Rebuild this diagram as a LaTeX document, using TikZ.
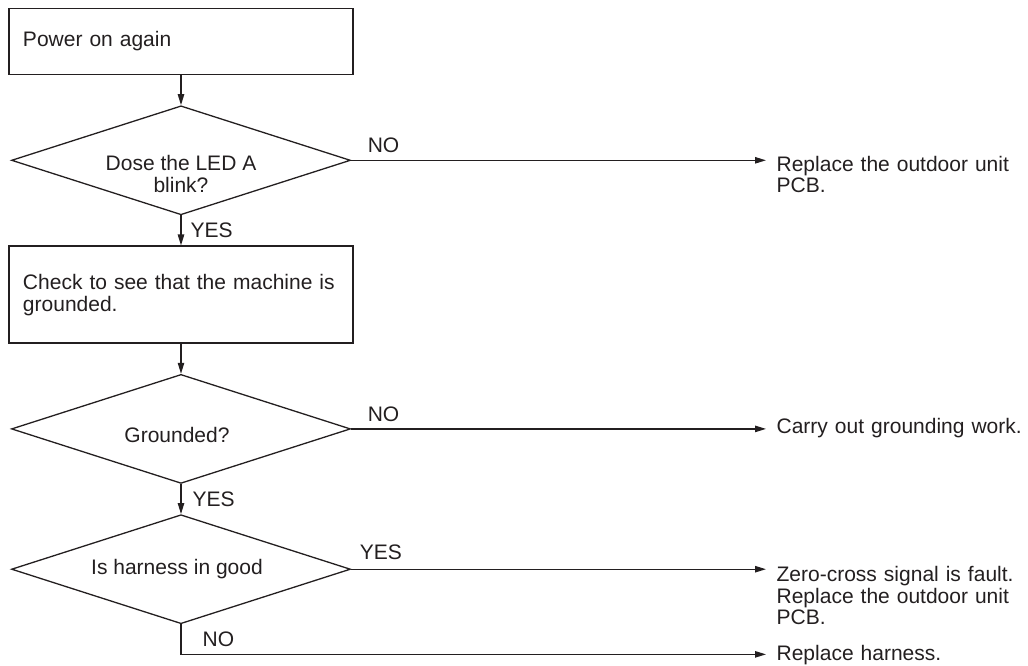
\documentclass[tikz,border=0pt]{standalone}
\usepackage{fontspec}
\setmainfont{Liberation Sans}
\usetikzlibrary{arrows.meta,positioning,shapes.geometric}
\definecolor{ink}{HTML}{231F20}
\setlength{\lineskiplimit}{-4pt}

\begin{document}
\begin{tikzpicture}[x=0.5pt,y=-0.5pt,node distance=15pt,>={Triangle[length=5.5pt,width=3.2pt]},
 line width=0.65pt,draw=ink,text=ink,
 every node/.style={font=\fontsize{10.5}{11}\selectfont},
 box/.style={draw=ink,rectangle,minimum width=172pt,text width=158pt,inner xsep=7pt,align=left},
 dec/.style={draw=ink,diamond,aspect=3.1,minimum width=169.5pt,minimum height=54.5pt,inner sep=0pt},
 dtext/.style={align=center,text=ink},
 res/.style={anchor=north west,inner sep=0pt,text width=126pt,align=left,
  font=\fontsize{10.5}{9.5}\selectfont},
 lbl/.style={inner sep=0pt}]
\useasboundingbox (0,0) rectangle (1028,665);
% main column
\node[box,minimum height=33pt] (pw) at (181,41.5) {Power on again};
\node[dec,below=of pw,label={[dtext,yshift=-6.75pt]center:Dose the LED A\\blink?}] (led) {};
\node[box,minimum height=48.5pt,below=of led] (chk) {Check to see that the machine is\\grounded.};
\node[dec,below=of chk,label={[dtext,xshift=-2pt,yshift=-3pt]center:Grounded?}] (gnd) {};
\node[dec,below=of gnd,label={[dtext,xshift=-2pt]center:Is harness in good}] (hrn) {};
% results
\node[res] (pcb) at (776,156) {Replace the outdoor unit\\PCB.};
\node[res] (wrk) at (776,418) {Carry out grounding work.};
\node[res] (zc) at (776,566) {Zero-cross signal is fault.\\Replace the outdoor unit\\PCB.};
\node[res] (rh) at (776,645) {Replace harness.};
\coordinate[below=15pt of hrn.south] (bend);
% connectors
\draw[->] (pw) -- (led);
\draw[->] (led) -- node[lbl,right=4.5pt]{YES} (chk);
\draw[->] (chk) -- (gnd);
\draw[->] (gnd) -- node[lbl,right=5.5pt]{YES} (hrn);
\draw[->,shorten >=5pt] (led.east) -- node[lbl,anchor=south west,pos=0,xshift=8pt,yshift=3.5pt]{NO} (pcb.west |- led.east);
\draw[->,shorten >=5pt] (gnd.east) -- node[lbl,anchor=south west,pos=0,xshift=8pt,yshift=3.5pt]{NO} (wrk.west |- gnd.east);
\draw[->,shorten >=5pt] (hrn.east) -- node[lbl,anchor=south west,pos=0,xshift=4pt,yshift=4.5pt]{YES} (zc.west |- hrn.east);
\draw[->,shorten >=5pt] (hrn.south) -- node[lbl,right=10.5pt]{NO} (bend) -- (bend -| rh.west);
\end{tikzpicture}
\end{document}
